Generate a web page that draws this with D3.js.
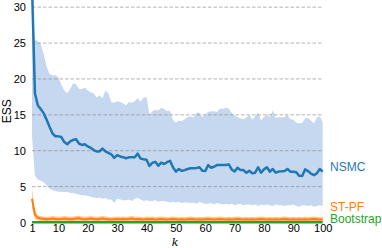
<!DOCTYPE html>
<html><head><meta charset="utf-8">
<script src="https://cdn.jsdelivr.net/npm/d3@7"></script>
<style>html,body{margin:0;padding:0;background:#fff;}svg{display:block;}</style>
</head><body>
<script>
const steps = d3.range(1, 101);
const xTicks = [1, 10, 20, 30, 40, 50, 60, 70, 80, 90, 100];
const yTicks = [0, 5, 10, 15, 20, 25, 30];
const seriesNames = ["NSMC", "ST-PF", "Bootstrap"];

const nsmcMean = [33,18.0,16.3,15.8,15.2,14.3,13.3,12.4,12.0,12.0,11.9,11.2,10.9,11.3,11.5,11.6,11.0,10.8,10.9,10.6,
10.4,10.1,9.9,9.9,10.3,9.9,9.7,9.5,9.0,9.4,9.2,9.1,8.95,9.08,9.08,9.1,9.6,8.9,8.8,8.75,
7.87,8.33,8.45,7.9,8.33,8.15,8.4,8.6,7.7,7.08,7.45,7.2,7.3,7.45,7.55,7.55,7.6,7.69,7.2,7.17,
8.0,7.63,7.77,8.0,8.0,8.0,8.0,8.1,7.4,7.1,7.63,7.3,7.3,6.94,7.2,6.85,6.94,7.69,6.94,7.4,
7.69,7.08,7.45,6.94,7.1,7.13,7.17,7.45,7.08,7.08,7.0,6.5,6.48,7.4,7.17,6.8,6.6,6.85,7.45,7.08];
const nsmcUpper = [29,25.5,25.3,24.8,23.4,21.7,20.7,20.5,20.5,20.2,19.2,18.4,18.0,18.6,19.4,19.3,18.6,18.6,18.8,18.4,
18.1,18.0,17.4,17.7,17.3,18.4,18.0,16.8,16.7,16.9,16.8,16.6,16.3,16.8,16.7,16.9,17.3,16.8,17.4,17.5,
15.0,15.5,15.7,15.6,16.0,15.8,15.5,15.6,14.3,13.9,14.2,14.1,14.4,14.7,14.8,14.6,15.3,15.3,14.7,15.0,
15.4,15.5,15.5,15.4,15.9,15.8,16.0,15.9,15.3,14.9,14.7,14.5,14.4,14.6,15.0,14.3,14.8,15.3,14.2,14.7,
15.0,14.7,15.6,14.6,14.65,14.65,14.65,15.0,14.4,14.3,13.9,13.8,13.9,14.5,14.6,14.2,13.8,14.6,14.8,14.0];
const nsmcLower = [12,6.5,6.0,5.8,5.6,5.2,4.7,4.5,4.4,4.3,4.3,4.2,4.3,4.1,4.1,4.0,3.9,3.8,3.8,3.7,
3.6,3.5,3.4,3.5,3.3,3.4,3.2,3.2,2.7,3.3,3.2,3.1,3.1,3.2,3.0,3.3,3.4,3.2,3.0,3.1,
3.0,3.0,3.1,2.9,3.0,3.0,2.9,2.8,2.9,2.8,2.9,2.7,2.8,2.8,2.7,2.8,2.6,2.9,2.7,2.6,
2.6,2.7,2.5,2.7,2.6,2.5,2.6,2.5,2.6,2.4,2.5,2.6,2.4,2.5,2.5,2.4,2.5,2.3,2.5,2.4,
2.5,2.4,2.3,2.5,2.4,2.4,2.3,2.4,2.4,2.5,2.3,2.2,2.4,2.4,2.3,2.4,2.2,2.3,2.4,2.3];

const stpfMean = [3.3,1.1,0.65,0.55,0.5,0.45,0.5,0.55,0.5,0.45,0.5,0.55,0.5,0.45,0.5,0.55,0.6,0.5,0.45,0.5,
0.55,0.5,0.45,0.5,0.55,0.5,0.45,0.4,0.45,0.5,0.45,0.5,0.45,0.5,0.55,0.45,0.5,0.45,0.4,0.5,
0.45,0.5,0.4,0.45,0.5,0.45,0.4,0.45,0.5,0.45,0.4,0.45,0.4,0.45,0.5,0.45,0.4,0.45,0.4,0.45,
0.5,0.45,0.4,0.45,0.5,0.45,0.4,0.45,0.4,0.45,0.5,0.45,0.4,0.45,0.4,0.45,0.4,0.45,0.5,0.45,
0.4,0.45,0.4,0.45,0.4,0.45,0.5,0.45,0.4,0.45,0.4,0.45,0.4,0.45,0.4,0.45,0.5,0.45,0.4,0.45];
const stpfUpper = [4.7,1.7,1.0,0.9,0.85,0.8,0.85,0.9,0.85,0.8,0.85,0.9,0.85,0.8,0.85,0.9,0.95,0.85,0.8,0.85,
0.9,0.85,0.8,0.85,0.9,0.85,0.8,0.75,0.8,0.85,0.8,0.85,0.8,0.85,0.9,0.8,0.85,0.8,0.75,0.85,
0.8,0.85,0.75,0.8,0.85,0.8,0.75,0.8,0.85,0.8,0.75,0.8,0.75,0.8,0.85,0.8,0.75,0.8,0.75,0.8,
0.85,0.8,0.75,0.8,0.85,0.8,0.75,0.8,0.75,0.8,0.85,0.8,0.75,0.8,0.75,0.8,0.75,0.8,0.85,0.8,
0.75,0.8,0.75,0.8,0.75,0.8,0.85,0.8,0.75,0.8,0.75,0.8,0.75,0.8,0.75,0.8,0.85,0.8,0.75,0.8];
const stpfLower = [2.0,0.5,0.3,0.25,0.2,0.2,0.2,0.25,0.2,0.2,0.2,0.25,0.2,0.2,0.2,0.25,0.25,0.2,0.2,0.2,
0.25,0.2,0.2,0.2,0.25,0.2,0.2,0.15,0.2,0.2,0.2,0.2,0.2,0.2,0.25,0.2,0.2,0.2,0.15,0.2,
0.2,0.2,0.15,0.2,0.2,0.2,0.15,0.2,0.2,0.2,0.15,0.2,0.15,0.2,0.2,0.2,0.15,0.2,0.15,0.2,
0.2,0.2,0.15,0.2,0.2,0.2,0.15,0.2,0.15,0.2,0.2,0.2,0.15,0.2,0.15,0.2,0.15,0.2,0.2,0.2,
0.15,0.2,0.15,0.2,0.15,0.2,0.2,0.2,0.15,0.2,0.15,0.2,0.15,0.2,0.15,0.2,0.2,0.2,0.15,0.2];

const bootMean = [0.05,0.02,0.02,0.02,0.02,0.02,0.02,0.02,0.02,0.02,0.02,0.02,0.02,0.02,0.02,0.02,0.02,0.02,0.02,0.02,
0.02,0.02,0.02,0.02,0.02,0.02,0.02,0.02,0.02,0.02,0.02,0.02,0.02,0.02,0.02,0.02,0.02,0.02,0.02,0.02,
0.02,0.02,0.02,0.02,0.02,0.02,0.02,0.02,0.02,0.02,0.02,0.02,0.02,0.02,0.02,0.02,0.02,0.02,0.02,0.02,
0.02,0.02,0.02,0.02,0.02,0.02,0.02,0.02,0.02,0.02,0.02,0.02,0.02,0.02,0.02,0.02,0.02,0.02,0.02,0.02,
0.02,0.02,0.02,0.02,0.02,0.02,0.02,0.02,0.02,0.02,0.02,0.02,0.02,0.02,0.02,0.02,0.02,0.02,0.02,0.02];

const W = 382, H = 248;
const svg = d3.select("body").append("svg").attr("width", W).attr("height", H);
const x = d3.scaleLinear().domain([1, 100]).range([32, 322.7]);
const y = d3.scaleLinear().domain([0, 31]).range([222.5, 0]);

const area = (lo, hi) => d3.area().x((d, i) => x(steps[i])).y0((d, i) => y(lo[i])).y1((d, i) => y(hi[i]));
const line = vals => d3.line().x((d, i) => x(steps[i])).y((d, i) => y(vals[i]));

svg.append("path").datum(steps).attr("d", area(nsmcLower, nsmcUpper)).attr("fill", "#c6d8ef");
svg.append("path").datum(steps).attr("d", area(stpfLower, stpfUpper)).attr("fill", "#ffc896");

// grid
svg.append("g").selectAll("line").data(yTicks.filter(t => t > 0)).join("line")
  .attr("x1", x(1)).attr("x2", x(100)).attr("y1", d => y(d)).attr("y2", d => y(d))
  .attr("stroke", "#808080").attr("stroke-opacity", 0.6).attr("stroke-width", 1)
  .attr("stroke-dasharray", "3.5,2");

svg.append("path").datum(steps).attr("d", line(nsmcMean)).attr("fill", "none")
  .attr("stroke", "#1f77b4").attr("stroke-width", 2.5).attr("stroke-linejoin", "round");
svg.append("path").datum(steps).attr("d", line(stpfMean)).attr("fill", "none")
  .attr("stroke", "#ff7f0e").attr("stroke-width", 2).attr("stroke-linejoin", "round");
svg.append("path").datum(steps).attr("d", line(bootMean)).attr("fill", "none")
  .attr("stroke", "#2ca02c").attr("stroke-width", 2.5);

// axes
const yAxis = d3.axisLeft(y).tickValues(yTicks).tickSize(0).tickPadding(6);
const gy = svg.append("g").attr("transform", `translate(${x(1)},0)`).call(yAxis);
gy.select(".domain").remove();
gy.selectAll("text").attr("font-family", "Liberation Sans, Arial, sans-serif").attr("font-size", 11).attr("fill", "#000");

const xAxis = d3.axisBottom(x).tickValues(xTicks).tickFormat(d3.format("d")).tickSize(0).tickPadding(2);
const gx = svg.append("g").attr("transform", `translate(0,${y(0)})`).call(xAxis);
gx.select(".domain").remove();
gx.selectAll("text").attr("font-family", "Liberation Sans, Arial, sans-serif").attr("font-size", 11).attr("fill", "#000");

svg.append("text").attr("transform", `translate(11,${y(15.5)}) rotate(-90)`)
  .attr("text-anchor", "middle").attr("font-family", "Liberation Sans, Arial, sans-serif").attr("font-size", 12)
  .text("ESS");
svg.append("text").attr("x", 175).attr("y", 246).attr("text-anchor", "middle")
  .attr("font-family", "DejaVu Serif, serif").attr("font-style", "italic").attr("font-size", 11).text("k");

const legend = [
  {name: seriesNames[0], color: "#1f77b4", yy: 167},
  {name: seriesNames[1], color: "#ff7f0e", yy: 207},
  {name: seriesNames[2], color: "#2ca02c", yy: 219}
];
svg.append("g").selectAll("text").data(legend).join("text")
  .attr("x", 330).attr("y", d => d.yy).attr("dy", "0.36em")
  .attr("font-family", "Liberation Sans, Arial, sans-serif").attr("font-size", 12)
  .attr("fill", d => d.color).text(d => d.name);
</script>
</body></html>
